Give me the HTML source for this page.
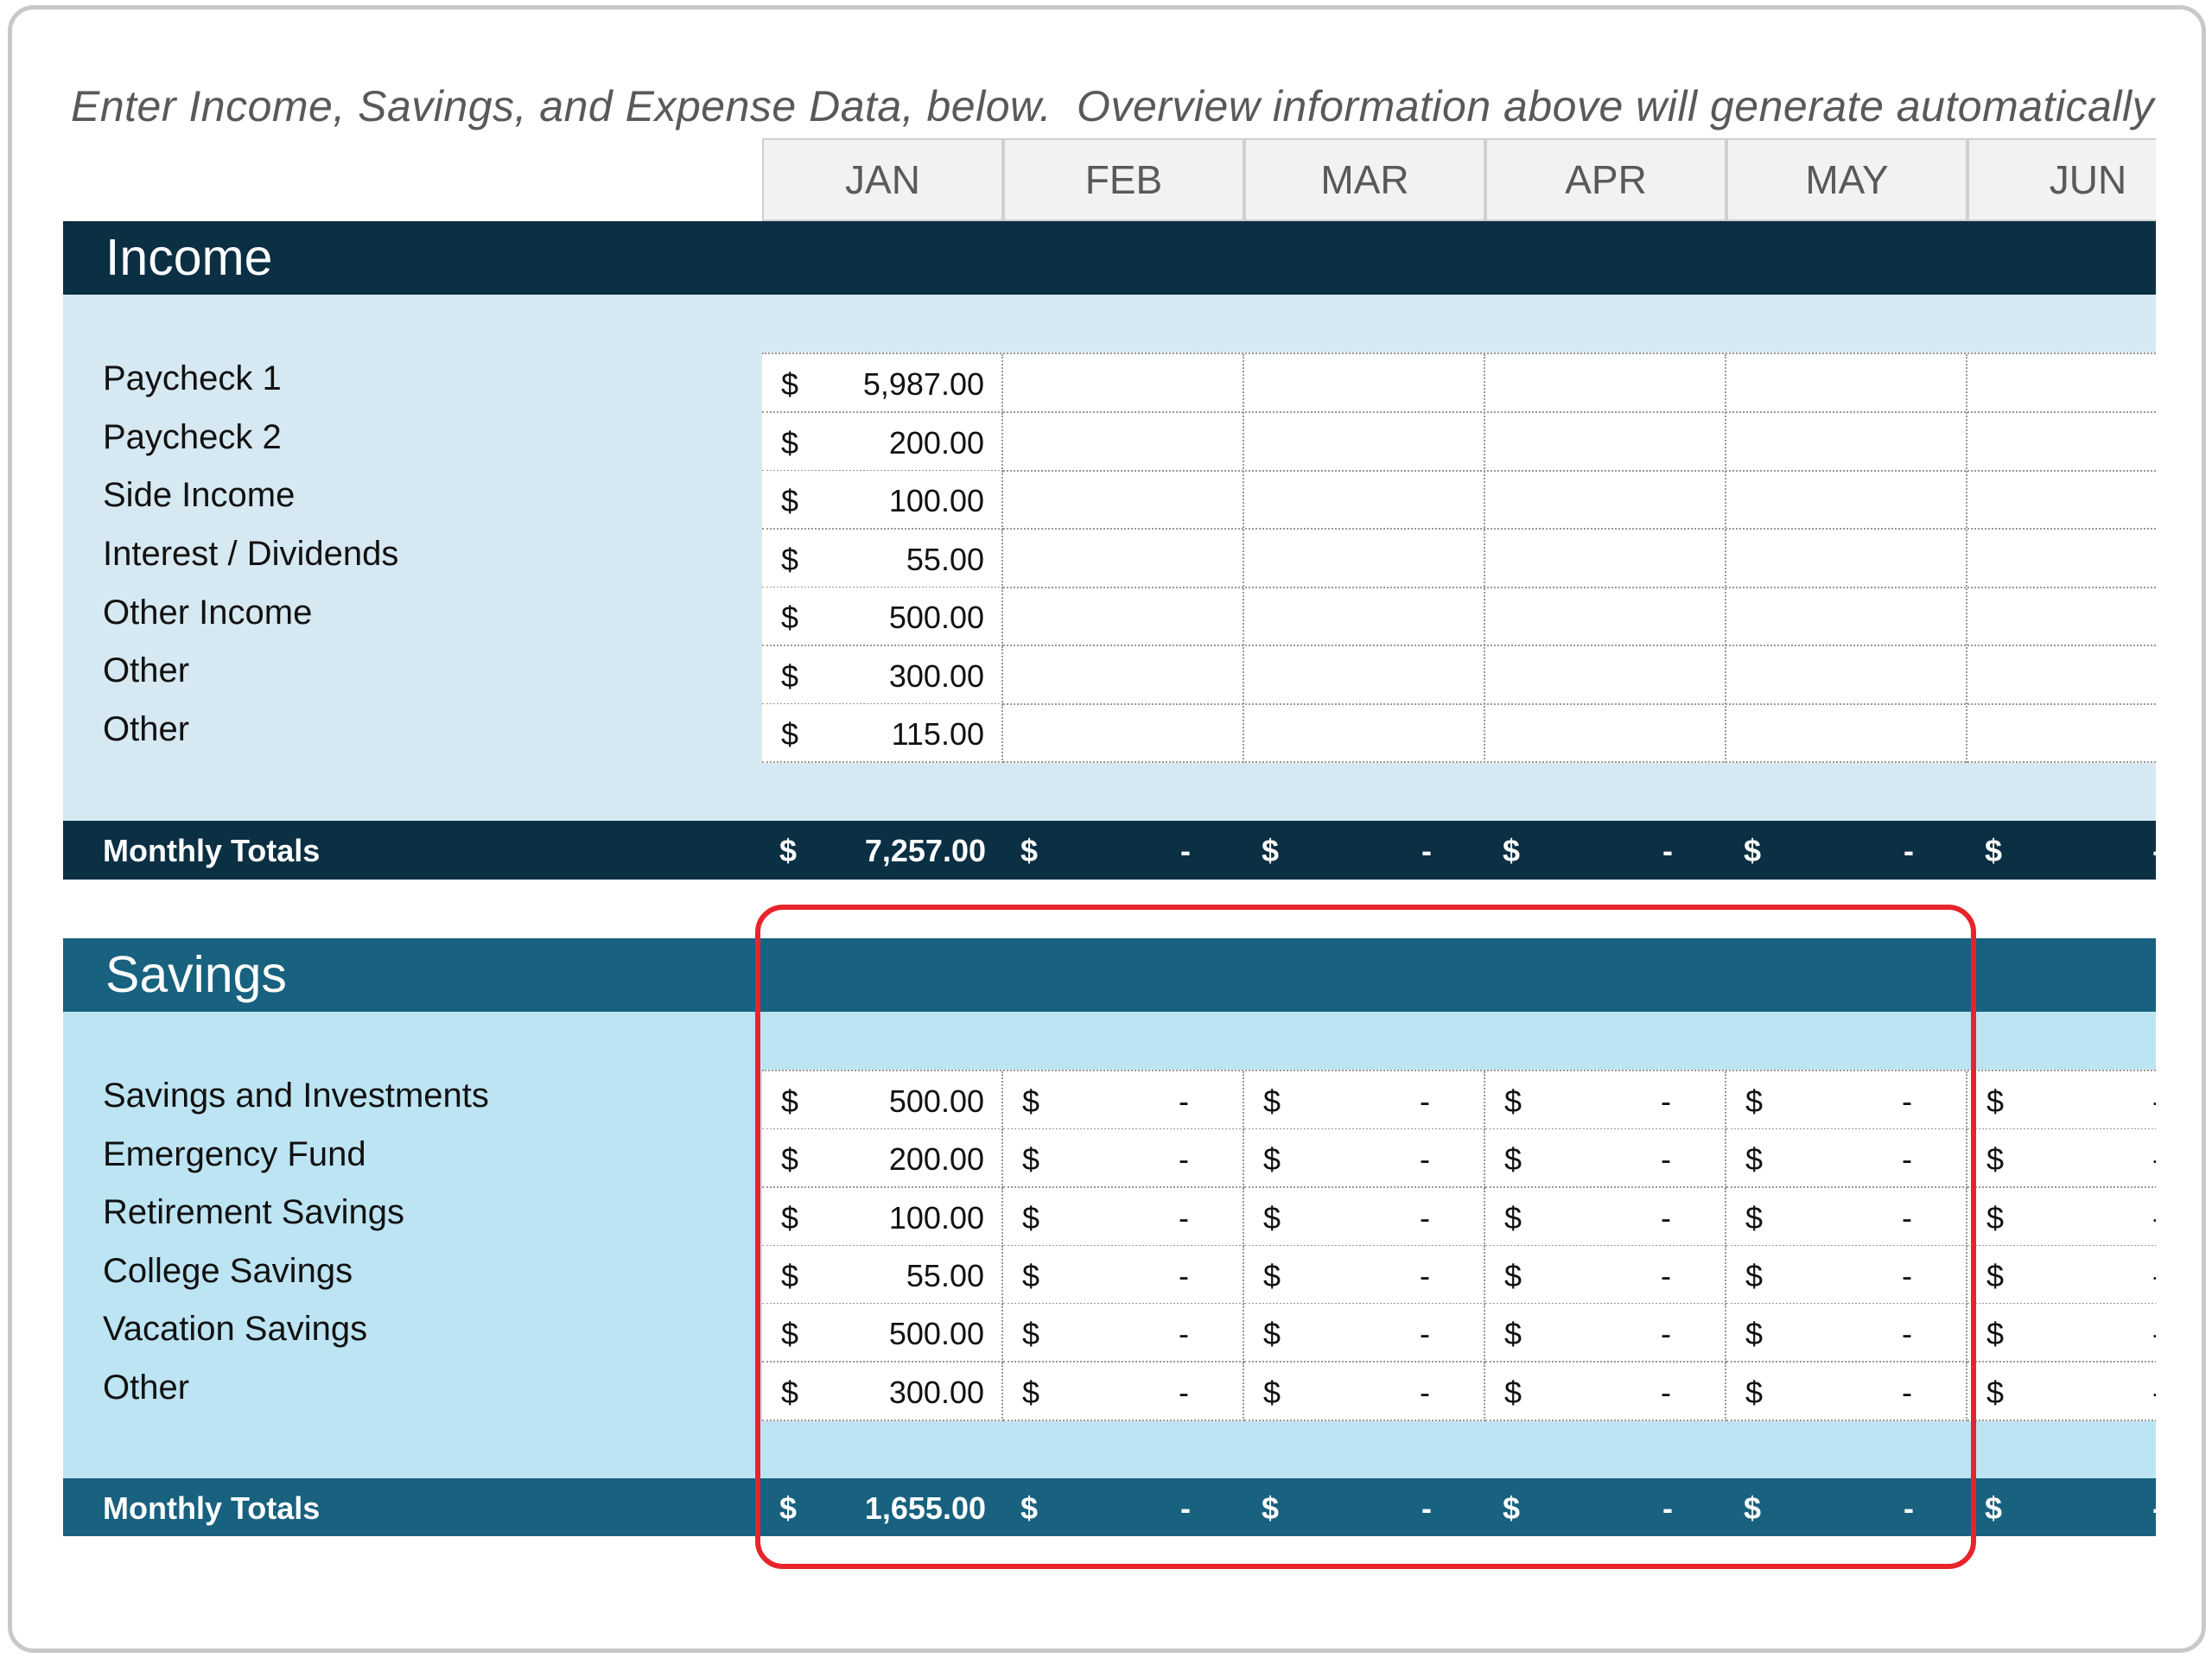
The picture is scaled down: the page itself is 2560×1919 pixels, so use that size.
<!DOCTYPE html>
<html><head><meta charset="utf-8"><style>
*{margin:0;padding:0;box-sizing:border-box}
body{width:2560px;height:1919px;background:#fff;position:relative;overflow:hidden;font-family:"Liberation Sans",sans-serif}
.frame{position:absolute;left:9px;top:6px;width:2544px;height:1907px;border:5px solid #c8c8c8;border-radius:30px}
.ab{position:absolute}
.clip{position:absolute;left:73px;top:0;width:2422px;height:1919px;overflow:hidden}
.head{position:absolute;left:9px;top:94px;font-style:italic;font-size:50px;color:#595959;white-space:nowrap;letter-spacing:0.5px}
.mon{position:absolute;top:160px;height:96px;width:279px;background:#f2f2f2;border:2px solid #d0d0d0;color:#595959;font-size:46px;text-align:center;line-height:92px}
.bar{position:absolute;left:0;width:2422px}
.title{position:absolute;left:49px;color:#fff;font-size:59px}
.lbl{position:absolute;left:46px;font-size:40px;color:#111;white-space:nowrap}
.cell{position:absolute;width:279px;height:68px;background:#fff;border-right:2px dotted #999;border-bottom:2px dotted #999;font-size:36px;color:#111}
.cell .d{position:absolute;left:22px;top:14px}
.cell .v{position:absolute;right:20px;top:14px}
.cell .z{position:absolute;right:62px;top:14px}
.hl{position:absolute;left:1088px;width:1334px;height:0;border-bottom:2px dotted #999}
.tot{position:absolute;width:279px;height:67px;color:#fff;font-weight:bold;font-size:36px}
.tot .d{position:absolute;left:20px;top:14px}
.tot .v{position:absolute;right:20px;top:14px}
.tot .z{position:absolute;right:62px;top:14px}
.tl{position:absolute;left:46px;color:#fff;font-weight:bold;font-size:36px}
</style></head><body>
<div class="frame"></div>
<div class="clip">
<div class="head">Enter Income, Savings, and Expense Data, below.&nbsp; Overview information above will generate automatically</div>
<div class="mon" style="left:809px">JAN</div>
<div class="mon" style="left:1088px">FEB</div>
<div class="mon" style="left:1367px">MAR</div>
<div class="mon" style="left:1646px">APR</div>
<div class="mon" style="left:1925px">MAY</div>
<div class="mon" style="left:2204px">JUN</div>

<div class="bar" style="top:256px;height:85px;background:#0b2f43"></div>
<div class="title" style="top:264px">Income</div>
<div class="bar" style="top:341px;height:609px;background:#d6e8f1"></div>
<div class="ab" style="left:809px;top:408px;width:1613px;height:475px;background:#fff;border-top:2px dotted #999;border-left:2px dotted #999"></div>

<div class="lbl" style="top:416px">Paycheck 1</div>
<div class="lbl" style="top:484px">Paycheck 2</div>
<div class="lbl" style="top:551px">Side Income</div>
<div class="lbl" style="top:619px">Interest / Dividends</div>
<div class="lbl" style="top:687px">Other Income</div>
<div class="lbl" style="top:754px">Other</div>
<div class="lbl" style="top:822px">Other</div>

<div class="cell" style="left:809px;top:410px"><span class="d">$</span><span class="v">5,987.00</span></div>
<div class="cell" style="left:809px;top:478px"><span class="d">$</span><span class="v">200.00</span></div>
<div class="cell" style="left:809px;top:545px"><span class="d">$</span><span class="v">100.00</span></div>
<div class="cell" style="left:809px;top:613px"><span class="d">$</span><span class="v">55.00</span></div>
<div class="cell" style="left:809px;top:680px"><span class="d">$</span><span class="v">500.00</span></div>
<div class="cell" style="left:809px;top:748px"><span class="d">$</span><span class="v">300.00</span></div>
<div class="cell" style="left:809px;top:815px"><span class="d">$</span><span class="v">115.00</span></div>
<div class="hl" style="top:476px"></div>
<div class="hl" style="top:544px"></div>
<div class="hl" style="top:611px"></div>
<div class="hl" style="top:679px"></div>
<div class="hl" style="top:746px"></div>
<div class="hl" style="top:814px"></div>
<div class="hl" style="top:881px"></div>
<div class="ab" style="left:1365px;top:410px;width:2px;height:473px;border-left:2px dotted #999"></div>
<div class="ab" style="left:1644px;top:410px;width:2px;height:473px;border-left:2px dotted #999"></div>
<div class="ab" style="left:1923px;top:410px;width:2px;height:473px;border-left:2px dotted #999"></div>
<div class="ab" style="left:2202px;top:410px;width:2px;height:473px;border-left:2px dotted #999"></div>

<div class="bar" style="top:950px;height:68px;background:#0b2f43"></div>
<div class="tl" style="top:964px">Monthly Totals</div>
<div class="tot" style="left:809px;top:950px"><span class="d">$</span><span class="v">7,257.00</span></div>
<div class="tot" style="left:1088px;top:950px"><span class="d">$</span><span class="z">-</span></div>
<div class="tot" style="left:1367px;top:950px"><span class="d">$</span><span class="z">-</span></div>
<div class="tot" style="left:1646px;top:950px"><span class="d">$</span><span class="z">-</span></div>
<div class="tot" style="left:1925px;top:950px"><span class="d">$</span><span class="z">-</span></div>
<div class="tot" style="left:2204px;top:950px"><span class="d">$</span><span class="z" style="right:60px;left:214px">-</span></div>

<div class="bar" style="top:1086px;height:85px;background:#18617f"></div>
<div class="title" style="top:1094px">Savings</div>
<div class="bar" style="top:1171px;height:540px;background:#bde4f3"></div>
<div class="ab" style="left:809px;top:1238px;width:1613px;height:406px;background:#fff;border-top:2px dotted #999;border-left:2px dotted #999"></div>

<div class="lbl" style="top:1246px">Savings and Investments</div>
<div class="lbl" style="top:1314px">Emergency Fund</div>
<div class="lbl" style="top:1381px">Retirement Savings</div>
<div class="lbl" style="top:1449px">College Savings</div>
<div class="lbl" style="top:1516px">Vacation Savings</div>
<div class="lbl" style="top:1584px">Other</div>

<div class="cell" style="left:809px;top:1240px"><span class="d">$</span><span class="v">500.00</span></div>
<div class="cell" style="left:809px;top:1307px"><span class="d">$</span><span class="v">200.00</span></div>
<div class="cell" style="left:809px;top:1375px"><span class="d">$</span><span class="v">100.00</span></div>
<div class="cell" style="left:809px;top:1442px"><span class="d">$</span><span class="v">55.00</span></div>
<div class="cell" style="left:809px;top:1509px"><span class="d">$</span><span class="v">500.00</span></div>
<div class="cell" style="left:809px;top:1577px"><span class="d">$</span><span class="v">300.00</span></div>

<div class="cell" style="left:1088px;top:1240px"><span class="d">$</span><span class="z">-</span></div>
<div class="cell" style="left:1088px;top:1307px"><span class="d">$</span><span class="z">-</span></div>
<div class="cell" style="left:1088px;top:1375px"><span class="d">$</span><span class="z">-</span></div>
<div class="cell" style="left:1088px;top:1442px"><span class="d">$</span><span class="z">-</span></div>
<div class="cell" style="left:1088px;top:1509px"><span class="d">$</span><span class="z">-</span></div>
<div class="cell" style="left:1088px;top:1577px"><span class="d">$</span><span class="z">-</span></div>

<div class="cell" style="left:1367px;top:1240px"><span class="d">$</span><span class="z">-</span></div>
<div class="cell" style="left:1367px;top:1307px"><span class="d">$</span><span class="z">-</span></div>
<div class="cell" style="left:1367px;top:1375px"><span class="d">$</span><span class="z">-</span></div>
<div class="cell" style="left:1367px;top:1442px"><span class="d">$</span><span class="z">-</span></div>
<div class="cell" style="left:1367px;top:1509px"><span class="d">$</span><span class="z">-</span></div>
<div class="cell" style="left:1367px;top:1577px"><span class="d">$</span><span class="z">-</span></div>

<div class="cell" style="left:1646px;top:1240px"><span class="d">$</span><span class="z">-</span></div>
<div class="cell" style="left:1646px;top:1307px"><span class="d">$</span><span class="z">-</span></div>
<div class="cell" style="left:1646px;top:1375px"><span class="d">$</span><span class="z">-</span></div>
<div class="cell" style="left:1646px;top:1442px"><span class="d">$</span><span class="z">-</span></div>
<div class="cell" style="left:1646px;top:1509px"><span class="d">$</span><span class="z">-</span></div>
<div class="cell" style="left:1646px;top:1577px"><span class="d">$</span><span class="z">-</span></div>

<div class="cell" style="left:1925px;top:1240px"><span class="d">$</span><span class="z">-</span></div>
<div class="cell" style="left:1925px;top:1307px"><span class="d">$</span><span class="z">-</span></div>
<div class="cell" style="left:1925px;top:1375px"><span class="d">$</span><span class="z">-</span></div>
<div class="cell" style="left:1925px;top:1442px"><span class="d">$</span><span class="z">-</span></div>
<div class="cell" style="left:1925px;top:1509px"><span class="d">$</span><span class="z">-</span></div>
<div class="cell" style="left:1925px;top:1577px"><span class="d">$</span><span class="z">-</span></div>

<div class="cell" style="left:2204px;top:1240px"><span class="d">$</span><span class="z" style="right:auto;left:214px">-</span></div>
<div class="cell" style="left:2204px;top:1307px"><span class="d">$</span><span class="z" style="right:auto;left:214px">-</span></div>
<div class="cell" style="left:2204px;top:1375px"><span class="d">$</span><span class="z" style="right:auto;left:214px">-</span></div>
<div class="cell" style="left:2204px;top:1442px"><span class="d">$</span><span class="z" style="right:auto;left:214px">-</span></div>
<div class="cell" style="left:2204px;top:1509px"><span class="d">$</span><span class="z" style="right:auto;left:214px">-</span></div>
<div class="cell" style="left:2204px;top:1577px"><span class="d">$</span><span class="z" style="right:auto;left:214px">-</span></div>

<div class="bar" style="top:1711px;height:67px;background:#18617f"></div>
<div class="tl" style="top:1725px">Monthly Totals</div>
<div class="tot" style="left:809px;top:1711px"><span class="d">$</span><span class="v">1,655.00</span></div>
<div class="tot" style="left:1088px;top:1711px"><span class="d">$</span><span class="z">-</span></div>
<div class="tot" style="left:1367px;top:1711px"><span class="d">$</span><span class="z">-</span></div>
<div class="tot" style="left:1646px;top:1711px"><span class="d">$</span><span class="z">-</span></div>
<div class="tot" style="left:1925px;top:1711px"><span class="d">$</span><span class="z">-</span></div>
<div class="tot" style="left:2204px;top:1711px"><span class="d">$</span><span class="z" style="right:auto;left:214px">-</span></div>
</div>

<div class="ab" style="left:874px;top:1047px;width:1413px;height:769px;border:6px solid #e8242b;border-radius:32px"></div>
</body></html>
